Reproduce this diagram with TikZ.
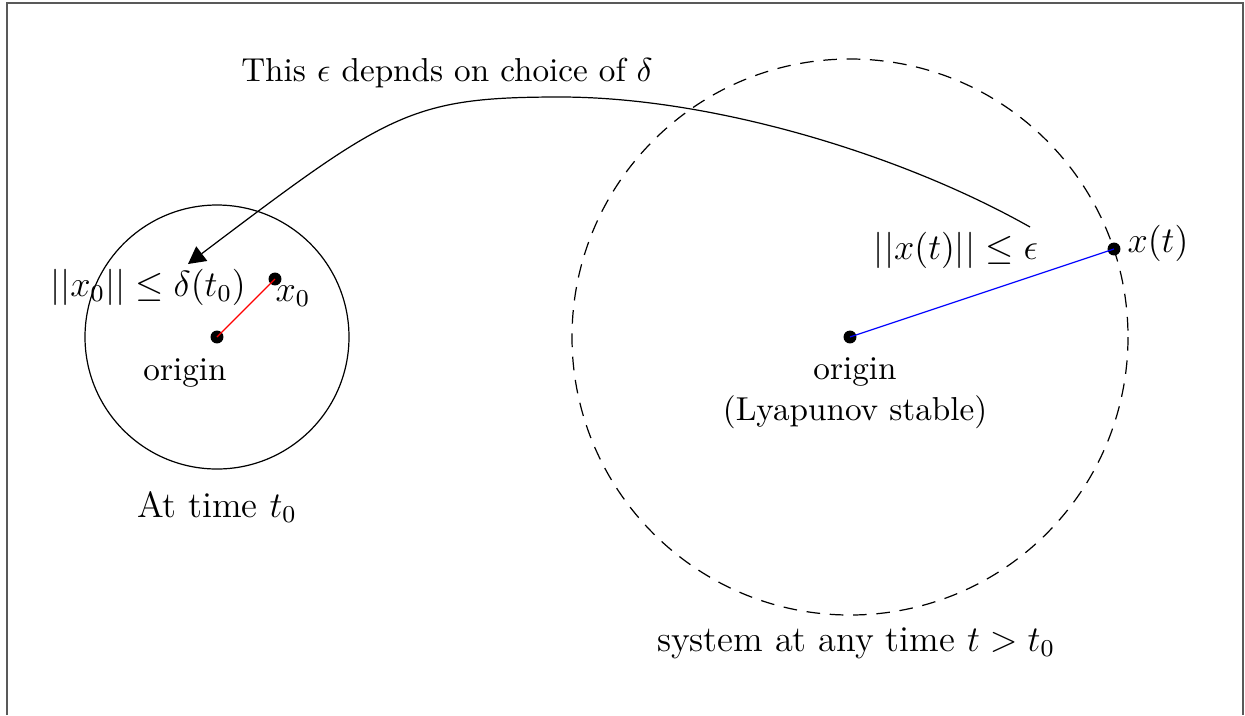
\documentclass[tikz,border=0pt,11pt]{standalone}
\usetikzlibrary{arrows.meta,positioning}

\begin{document}
\begin{tikzpicture}[x=0.0116cm, y=-0.0116cm,
  dot/.style={circle, fill=black, inner sep=0pt, minimum size=1.5mm},
  big/.style={font=\large},
  arr/.style={-{Triangle[length=2mm,width=2.1mm]}},
  ball/.style={dash pattern=on 4.5pt off 3.2pt}
]
\useasboundingbox (0,0) rectangle (1245,715);
\draw[gray!70!black, line width=0.8pt] (7,715) -- (7,3) -- (1243,3) -- (1243,715);

% at time t_0
\coordinate (c0) at (217,337);
\draw (c0) circle[radius=132];
\node[dot] (o0) at (c0) {};
\node[dot] (x0) at (275,279) {};
\draw[red] (o0.center) -- (x0.center);
\node (o0lbl) at (185,373) {origin};
\node[big] (x0lbl) at (293,296) {$x_0$};
\node[big] (dlbl) at (148,287) {$||x_0|| \leq \delta(t_0)$};
\node[big] (t0lbl) at (217,507) {At time $t_0$};

% any time t > t_0
\coordinate (c1) at (850,337);
\draw[ball] (c1) circle[radius=278];
\node[dot] (o1) at (c1) {};
\node[dot] (xt) at (1114,249) {};
\draw[blue] (o1.center) -- (xt.center);
\node[align=center] (o1lbl) at (855,393) {origin\\(Lyapunov stable)};
\node[big] (xtlbl) at (1158,243) {$x(t)$};
\node[big] (elbl) at (956,250) {$||x(t)|| \leq \epsilon$};
\node[big] (tlbl) at (856,643) {system at any time $t > t_0$};

% epsilon depends on delta
\node (note) at (447,73) {This $\epsilon$ depnds on choice of $\delta$};
\coordinate (from) at (1030,227);
\coordinate (top) at (560,97);
\coordinate (to) at (188,264);
\draw[arr] (from) .. controls (899,153) and (710,97) .. (top)
  .. controls (410,97) and (388,113) .. (to);

\end{tikzpicture}
\end{document}
